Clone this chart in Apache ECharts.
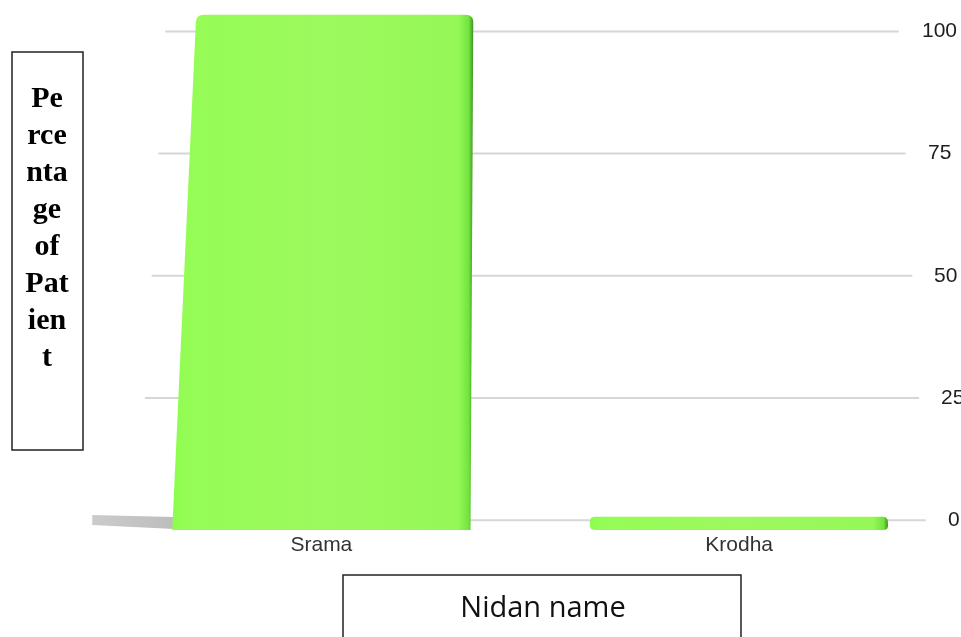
<!DOCTYPE html>
<html>
<head>
<meta charset="utf-8">
<script src="https://cdn.jsdelivr.net/npm/echarts@6.0.0/dist/echarts.min.js"></script>
<style>
  html, body { margin: 0; padding: 0; background: #ffffff; }
  #chart { width: 961px; height: 637px; }
</style>
</head>
<body>
<div id="chart"></div>
<script>
// ---- data ----
const categories = ['Srama', 'Krodha'];
const percentValues = [97.5, 2.5];
const tickValues = [0, 25, 50, 75, 100];
const yTitleLines = ['Pe', 'rce', 'nta', 'ge', 'of', 'Pat', 'ien', 't'];
const xTitle = 'Nidan name';

// ---- perspective styling (3D look) ----
const VX = 510;            // horizontal vanishing x
const K = 0.071 / 516;     // horizontal shrink per pixel of height

function sx(x, y, yb) {
  const s = 1 - K * (yb - y);
  return VX + (x - VX) * s;
}

function quad(p0, p1, p2, n, out) {
  for (let i = 1; i <= n; i++) {
    const t = i / n, u = 1 - t;
    out.push([u * u * p0[0] + 2 * u * t * p1[0] + t * t * p2[0],
              u * u * p0[1] + 2 * u * t * p1[1] + t * t * p2[1]]);
  }
}

function barPolygon(xl0, xr0, yb, yt, r, roundBottom) {
  const L = y => sx(xl0, y, yb), R = y => sx(xr0, y, yb);
  const pts = [];
  if (roundBottom) {
    pts.push([L(yb) + r, yb]);
    quad([L(yb) + r, yb], [L(yb), yb], [L(yb - r), yb - r], 5, pts);
  } else {
    pts.push([L(yb), yb]);
  }
  pts.push([L(yt + r), yt + r]);
  quad([L(yt + r), yt + r], [L(yt), yt], [L(yt) + r, yt], 6, pts);
  pts.push([R(yt) - r, yt]);
  quad([R(yt) - r, yt], [R(yt), yt], [R(yt + r), yt + r], 6, pts);
  if (roundBottom) {
    pts.push([R(yb - r), yb - r]);
    quad([R(yb - r), yb - r], [R(yb), yb], [R(yb) - r, yb], 5, pts);
  } else {
    pts.push([R(yb), yb]);
  }
  return pts;
}

const tickRich = { p100: { padding: [0, 0, 0, 0] }, p75: { padding: [0, 0, 0, 6] },
  p50: { padding: [0, 0, 0, 12] }, p25: { padding: [0, 0, 0, 19] }, p0: { padding: [0, 0, 0, 26] } };
Object.keys(tickRich).forEach(k => Object.assign(tickRich[k], {
  fontSize: 21, fontFamily: '"Liberation Sans", Arial, sans-serif', color: '#1e1e1e'
}));

const chart = echarts.init(document.getElementById('chart'), null, { renderer: 'canvas' });

const option = {
  backgroundColor: '#ffffff',
  animation: false,
  grid: [
    { left: 150, right: 47, top: 31.4, bottom: 116.8, containLabel: false, outerBoundsMode: 'none' },   // back wall
    { left: 112.5, right: 13, top: 1.5, bottom: 107, containLabel: false, outerBoundsMode: 'none' }     // front plane (bars)
  ],
  xAxis: [
    { gridIndex: 0, type: 'value', min: 0, max: 1, show: false },
    {
      gridIndex: 1, type: 'category', data: categories,
      axisLine: { show: false }, axisTick: { show: false }, splitLine: { show: false },
      axisLabel: { margin: 5, fontSize: 21, color: '#333', fontFamily: '"Liberation Sans", Arial, sans-serif' }
    }
  ],
  yAxis: [
    {
      gridIndex: 0, type: 'value', position: 'right', min: 0, max: 100, interval: 25,
      axisLine: { show: false }, axisTick: { show: false }, splitLine: { show: false },
      axisLabel: {
        margin: 8, align: 'left', hideOverlap: false,
        formatter: v => '{p' + v + '|' + v + '}',
        rich: tickRich
      }
    },
    { gridIndex: 1, type: 'value', min: 0, max: 100, show: false }
  ],
  series: [
    {
      type: 'custom', xAxisIndex: 0, yAxisIndex: 0, z: 1, silent: true,
      data: tickValues.map(v => [0.5, v]),
      renderItem: function (params, api) {
        const c = api.coord([api.value(0), api.value(1)]);
        const hw = 367 + 0.0552 * (c[1] - 35);
        return {
          type: 'line',
          shape: { x1: c[0] - hw, y1: c[1], x2: c[0] + hw, y2: c[1] },
          style: { stroke: '#d6d6d6', lineWidth: 2 }
        };
      }
    },
    {
      type: 'custom', xAxisIndex: 1, yAxisIndex: 1, z: 3, silent: true,
      data: percentValues.map((v, i) => [i, v]),
      encode: { x: 0, y: 1 },
      renderItem: function (params, api) {
        const idx = api.value(0), val = api.value(1);
        const base = api.coord([idx, 0]);
        const top = api.coord([idx, val]);
        const band = api.size([1, 0])[0];
        const hw = band * 0.357;
        const yb = base[1], yt = top[1];
        const xl0 = base[0] - hw, xr0 = base[0] + hw;
        const small = (yb - yt) < 30;
        const r = small ? Math.min(5, (yb - yt) / 2) : 8;
        const L = 80 * val / 97.5;
        const children = [];
        if (L > 6) {
          children.push({
            type: 'polygon',
            shape: { points: [[xl0 - L, yb - 15], [xl0 + 2, yb - 13], [xl0 + 2, yb - 1], [xl0 - L, yb - 5]] },
            style: {
              fill: new echarts.graphic.LinearGradient(0, 0, 1, 0, [
                { offset: 0, color: '#cbcbcb' }, { offset: 1, color: '#bdbdbd' }
              ])
            }
          });
        }
        children.push({
          type: 'polygon',
          shape: { points: barPolygon(xl0, xr0, yb, yt, r, small) },
          style: {
            fill: new echarts.graphic.LinearGradient(0, 0, 1, 0, [
              { offset: 0, color: '#8bfd4d' },
              { offset: 0.04, color: '#95fc55' },
              { offset: 0.5, color: '#9df95e' },
              { offset: 0.95, color: '#95f857' },
              { offset: 0.985, color: '#72e33f' },
              { offset: 1, color: '#3d9521' }
            ])
          }
        });
        return { type: 'group', children: children };
      }
    }
  ],
  graphic: [
    {
      type: 'rect', z: 10,
      shape: { x: 12, y: 52, width: 71, height: 398 },
      style: { fill: '#ffffff', stroke: '#222', lineWidth: 1.5 }
    },
    {
      type: 'text', z: 11, x: 47, y: 81,
      style: {
        text: yTitleLines.join('\n'),
        font: 'bold 30px "Liberation Serif", "Times New Roman", serif',
        lineHeight: 37, align: 'center', verticalAlign: 'top', fill: '#000'
      }
    },
    {
      type: 'rect', z: 10,
      shape: { x: 343, y: 575, width: 398, height: 90 },
      style: { fill: '#ffffff', stroke: '#222', lineWidth: 1.5 }
    },
    {
      type: 'text', z: 11, x: 543, y: 609,
      style: {
        text: xTitle,
        font: '29px "Open Sans", sans-serif',
        align: 'center', verticalAlign: 'middle', fill: '#111'
      }
    }
  ]
};

chart.setOption(option);
</script>
</body>
</html>
